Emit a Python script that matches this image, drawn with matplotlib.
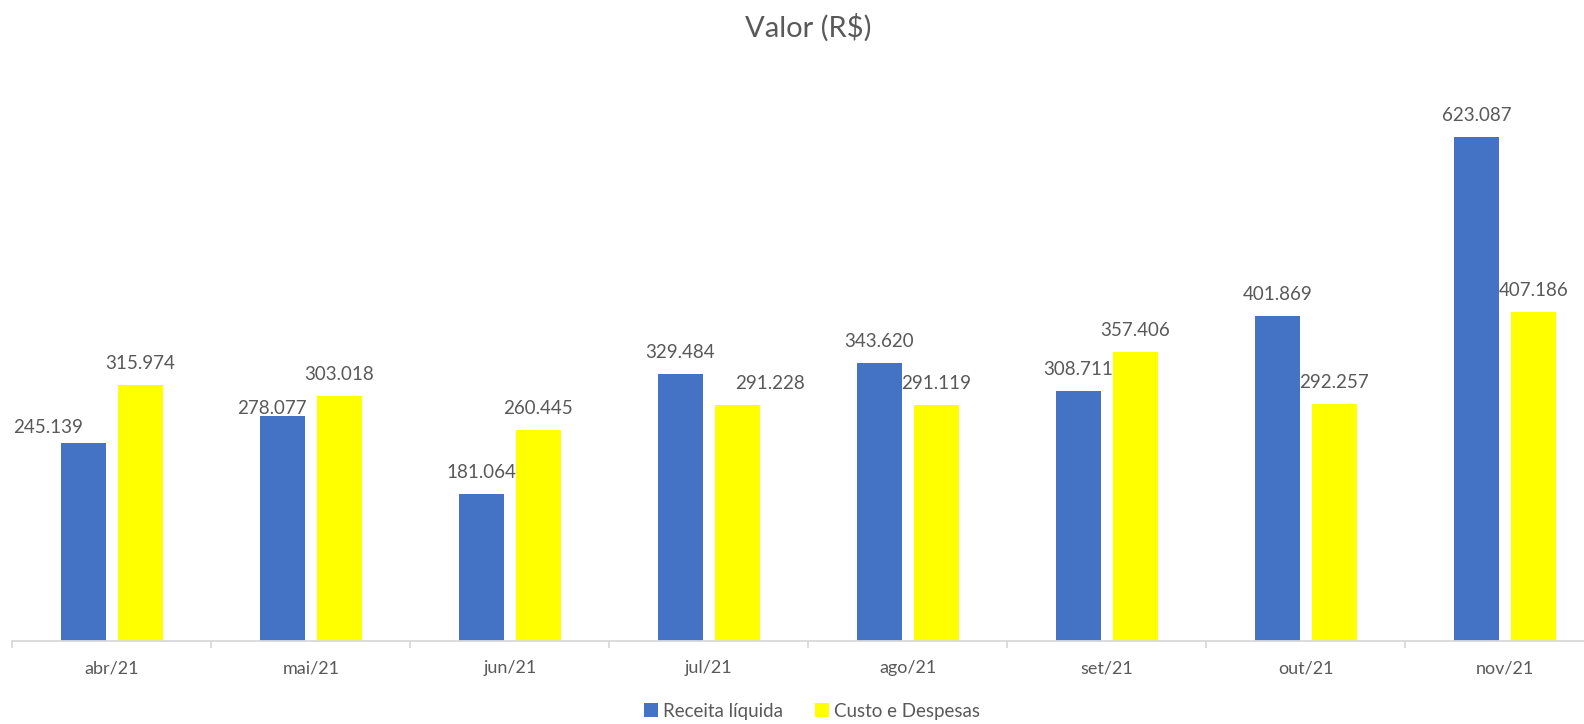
import numpy as np
import matplotlib.pyplot as plt

# monthly values (R$)
meses = ['abr/21', 'mai/21', 'jun/21', 'jul/21', 'ago/21', 'set/21', 'out/21', 'nov/21']
receita = [245139, 278077, 181064, 329484, 343620, 308711, 401869, 623087]
custos = [315974, 303018, 260445, 291228, 291119, 357406, 292257, 407186]

# a few labels were dragged by hand in the original: (series, month) -> (dx px, gap px)
ajustes = {(0, 0): (-35, 10), (0, 1): (-10, 2), (1, 3): (32.5, 16)}

plt.rcParams['font.family'] = ['Lato', 'DejaVu Sans']
cinza = '#595959'
px = 72 / 100  # pixels -> points at dpi 100

def fmt(v):
    return f"{v:,.0f}".replace(",", ".")

fig = plt.figure(figsize=(15.84, 7.24), dpi=100)
# chart is cropped on the right in the original, so axes runs past the edge
ax = fig.add_axes([12.3 / 1584, 1 - 640.7 / 724, 8 * 199 / 1584, 565.9 / 724])

x = np.arange(len(meses))
w = 0.226
off = 0.143
b1 = ax.bar(x - off, receita, w, color='#4472c4', label='Receita líquida')
b2 = ax.bar(x + off, custos, w, color='#ffff00', label='Custo e Despesas')

for s, (bars, vals) in enumerate([(b1, receita), (b2, custos)]):
    for i, (r, v) in enumerate(zip(bars, vals)):
        dx, gap = ajustes.get((s, i), (0, 16))
        ax.annotate(fmt(v), (r.get_x() + r.get_width() / 2, v),
                    xytext=(dx * px, gap * px), textcoords='offset points',
                    ha='center', va='baseline', fontsize=13.5, color=cinza)

ax.set_xlim(-0.5, len(meses) - 0.5)
ax.set_ylim(0, 700000)
ax.set_yticks([])
for sp in ['top', 'right', 'left']:
    ax.spines[sp].set_visible(False)
ax.spines['bottom'].set_color('#d9d9d9')
ax.spines['bottom'].set_linewidth(1.3)

ax.set_xticks(x)
ax.set_xticklabels(meses, fontsize=13, color=cinza)
ax.tick_params(axis='x', which='major', length=0, pad=14)
ax.set_xticks(np.arange(len(meses) + 1) - 0.5, minor=True)
ax.tick_params(axis='x', which='minor', length=5, color='#d9d9d9', width=1.3)

fig.text(808 / 1584, 1 - 28 / 724, 'Valor (R$)', ha='center', va='center',
         fontsize=21, color=cinza)

fig.legend(handles=[b1, b2], loc='center', bbox_to_anchor=(812 / 1584, 1 - 711 / 724),
           ncol=2, frameon=False, fontsize=13.5, labelcolor=cinza,
           handlelength=0.75, handleheight=0.75, handletextpad=0.25, columnspacing=1.7)

fig.savefig('out.png', dpi=100)
